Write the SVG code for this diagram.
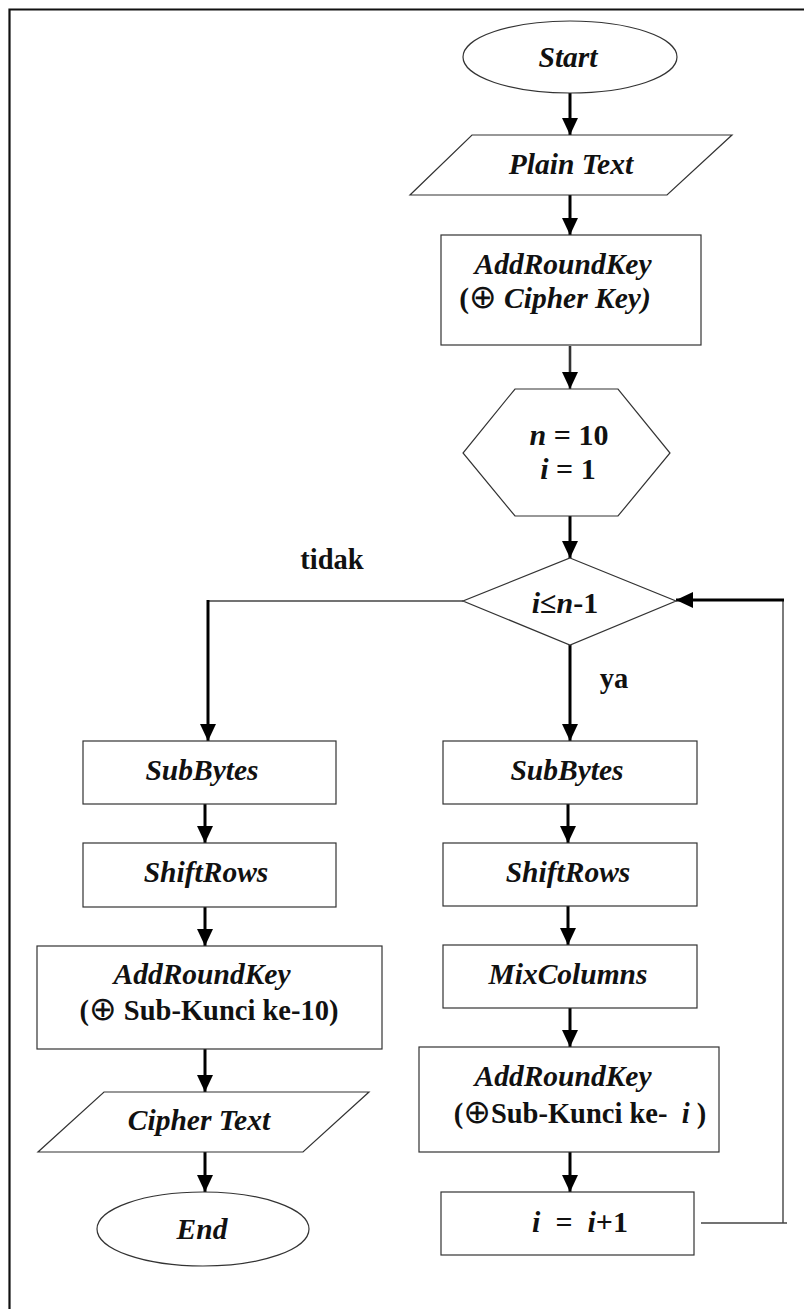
<svg xmlns="http://www.w3.org/2000/svg" width="804" height="1309" viewBox="0 0 804 1309">
<defs>
<marker id="ah" markerWidth="17" markerHeight="16" refX="17" refY="8" orient="auto" markerUnits="userSpaceOnUse">
<path d="M0,0 L17,8 L0,16 z" fill="#000"/>
</marker>
<style>
.shape{fill:#fff;stroke:#333;stroke-width:1.2}
.t{font-family:"Liberation Serif","DejaVu Serif",serif;font-weight:bold;font-style:italic;font-size:29.5px;fill:#111;text-anchor:middle}
.b{font-family:"Liberation Serif","DejaVu Serif",serif;font-weight:bold;font-size:28.5px;fill:#111;text-anchor:middle}
.m{font-size:30px}
.arr{stroke:#000;stroke-width:3;fill:none;marker-end:url(#ah)}
.thin{stroke:#444;stroke-width:1.4;fill:none}
.n{font-style:normal}
.i{font-style:italic}
.x{font-family:"DejaVu Sans",sans-serif;font-weight:normal;font-style:normal;font-size:33px}
</style>
</defs>
<rect width="804" height="1309" fill="#fff"/>
<path d="M9.5,1309 V9.5 H804" fill="none" stroke="#111" stroke-width="2.2"/>

<g id="connectors">
<line class="arr" x1="570" y1="93" x2="570" y2="135"/>
<line class="arr" x1="570" y1="195" x2="570" y2="235"/>
<line class="arr" x1="570" y1="346" x2="570" y2="389" style="stroke:#333;stroke-width:2.6"/>
<line class="arr" x1="570" y1="516" x2="570" y2="558"/>
<line class="arr" x1="570" y1="645" x2="570" y2="741"/>
<line class="arr" x1="568" y1="804" x2="568" y2="843"/>
<line class="arr" x1="568" y1="906" x2="568" y2="945"/>
<line class="arr" x1="570" y1="1008" x2="570" y2="1047"/>
<line class="arr" x1="570" y1="1152" x2="570" y2="1192"/>
<polyline class="thin" points="463,601 208,601"/>
<line class="arr" x1="208" y1="600" x2="208" y2="741"/>
<line class="arr" x1="205" y1="804" x2="205" y2="843"/>
<line class="arr" x1="205" y1="907" x2="205" y2="946"/>
<line class="arr" x1="205" y1="1049" x2="205" y2="1092"/>
<line class="arr" x1="205" y1="1152" x2="205" y2="1192"/>
<polyline class="thin" points="701,1223 787,1223"/>
<polyline class="thin" points="783,1223 783,599"/>
<line class="arr" x1="784" y1="600" x2="676" y2="600"/>
<text class="b" x="332" y="569">tidak</text>
<text class="b" x="614" y="688">ya</text>
</g>

<g id="start">
<ellipse class="shape" cx="570" cy="57" rx="107" ry="36"/>
<text class="t" x="568" y="67">Start</text>
</g>
<g id="plaintext">
<polygon class="shape" points="472,135 732,135 667,195 410,195"/>
<text class="t" x="571" y="174">Plain Text</text>
</g>
<g id="addroundkey0">
<rect class="shape" x="441" y="235" width="260" height="110"/>
<text class="t" x="563" y="274">AddRoundKey</text>
<text class="t" x="555" y="308"><tspan class="n">(</tspan><tspan class="x">⊕</tspan> Cipher Key)</text>
</g>
<g id="init">
<polygon class="shape" points="515,389 618,389 670,453 618,516 515,516 463,453"/>
<text class="b m" x="569" y="445"><tspan class="i">n</tspan> = 10</text>
<text class="b m" x="568" y="479"><tspan class="i">i</tspan> = 1</text>
</g>
<g id="cond">
<polygon class="shape" points="570,558 676,601 570,645 463,601"/>
<text class="b m" x="565" y="613"><tspan class="i">i</tspan>≤<tspan class="i">n</tspan>-1</text>
</g>
<g id="subbytes-l">
<rect class="shape" x="83" y="741" width="253" height="63"/>
<text class="t" x="202" y="780">SubBytes</text>
</g>
<g id="shiftrows-l">
<rect class="shape" x="83" y="843" width="253" height="64"/>
<text class="t" x="206" y="882">ShiftRows</text>
</g>
<g id="addroundkey-final">
<rect class="shape" x="37" y="946" width="345" height="103"/>
<text class="t" x="202" y="984">AddRoundKey</text>
<text class="b" x="209" y="1020">(<tspan class="x">⊕</tspan> Sub-Kunci ke-10)</text>
</g>
<g id="ciphertext">
<polygon class="shape" points="104,1092 369,1092 303,1152 38,1152"/>
<text class="t" x="199" y="1130">Cipher Text</text>
</g>
<g id="end">
<ellipse class="shape" cx="203" cy="1229" rx="106" ry="37"/>
<text class="t" x="202" y="1239">End</text>
</g>
<g id="subbytes-r">
<rect class="shape" x="443" y="741" width="254" height="63"/>
<text class="t" x="567" y="780">SubBytes</text>
</g>
<g id="shiftrows-r">
<rect class="shape" x="443" y="843" width="254" height="63"/>
<text class="t" x="568" y="882">ShiftRows</text>
</g>
<g id="mixcolumns">
<rect class="shape" x="443" y="945" width="254" height="63"/>
<text class="t" x="568" y="984">MixColumns</text>
</g>
<g id="addroundkey-i">
<rect class="shape" x="419" y="1047" width="300" height="105"/>
<text class="t" x="563" y="1086">AddRoundKey</text>
<text class="b" x="580" y="1123" xml:space="preserve">(<tspan class="x">⊕</tspan>Sub-Kunci ke-  <tspan class="i">i</tspan> )</text>
</g>
<g id="increment">
<rect class="shape" x="441" y="1192" width="253" height="63"/>
<text class="b m" x="580" y="1232" xml:space="preserve"><tspan class="i">i</tspan>  =  <tspan class="i">i</tspan>+1</text>
</g>
</svg>
